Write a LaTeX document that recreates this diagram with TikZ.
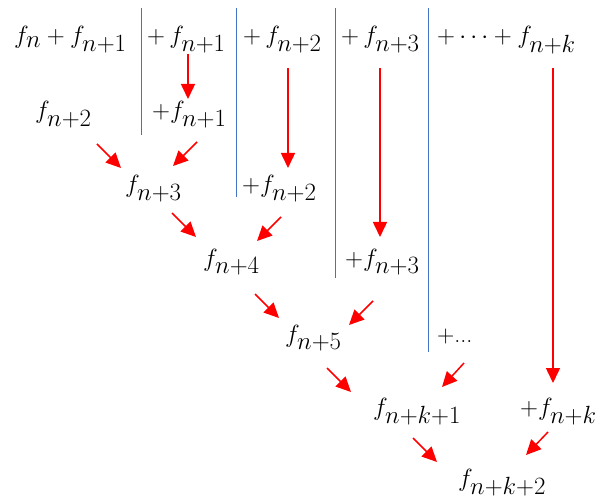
\documentclass[tikz,border=0pt]{standalone}
\usetikzlibrary{arrows.meta}
\definecolor{sepblue}{RGB}{68,114,196}
\begin{document}
\begin{tikzpicture}[x=1pt,y=-1pt,
  lbl/.style={anchor=base west,inner sep=0pt,font=\fontsize{34}{40}\selectfont},
  sepline/.style={draw=sepblue,line width=1.2pt},
  arr/.style={draw=red,line width=1.5pt,-{Triangle[length=15pt,width=14pt]}}]
\useasboundingbox (0,0) rectangle (603,500);
% top row
\node[lbl] (t1) at (14,44) {$f_n + f_{n+1}$};
\node[lbl] (t2) at (147,44) {$+\, f_{n+1}$};
\node[lbl] (t3) at (243,44) {$+\, f_{n+2}$};
\node[lbl] (t4) at (341,44) {$+\, f_{n+3}$};
\node[lbl] (t5) at (437,44) {$+ \cdots + f_{n+k}$};
% left column sums
\node[lbl] (a2) at (35,119) {$f_{n+2}$};
\node[lbl] (a3) at (125,193) {$f_{n+3}$};
\node[lbl] (a4) at (203,266) {$f_{n+4}$};
\node[lbl] (a5) at (285,342) {$f_{n+5}$};
\node[lbl] (a6) at (373,415) {$f_{n+k+1}$};
\node[lbl] (a7) at (458,486) {$f_{n+k+2}$};
% added terms
\node[lbl] (b1) at (152,119) {$+f_{n+1}$};
\node[lbl] (b2) at (242,193) {$+f_{n+2}$};
\node[lbl] (b3) at (345,266) {$+f_{n+3}$};
\node[lbl,font=\fontsize{24}{30}\selectfont] (b4) at (437,342) {+...};
\node[lbl] (b5) at (520,415) {$+f_{n+k}$};
% separators
\coordinate (s1a) at (141.5,8); \coordinate (s1b) at (141.5,135);
\coordinate (s2a) at (236.5,8); \coordinate (s2b) at (236.5,197);
\coordinate (s3a) at (335.5,8); \coordinate (s3b) at (335.5,278);
\coordinate (s4a) at (428.5,8); \coordinate (s4b) at (428.5,352);
\draw[sepline] (s1a) -- (s1b);
\draw[sepline] (s2a) -- (s2b);
\draw[sepline] (s3a) -- (s3b);
\draw[sepline] (s4a) -- (s4b);
% vertical arrows
\coordinate (v1a) at (188,54); \coordinate (v1b) at (188,99);
\coordinate (v2a) at (288,68); \coordinate (v2b) at (288,168);
\coordinate (v3a) at (380,68); \coordinate (v3b) at (380,237);
\coordinate (v4a) at (553,68); \coordinate (v4b) at (553,383);
\draw[arr] (v1a) -- (v1b);
\draw[arr] (v2a) -- (v2b);
\draw[arr] (v3a) -- (v3b);
\draw[arr] (v4a) -- (v4b);
% diagonal arrows
\coordinate (d1a) at (97,144); \coordinate (d1b) at (121,168);
\coordinate (d2a) at (197,142); \coordinate (d2b) at (173,166);
\coordinate (d3a) at (172,213); \coordinate (d3b) at (196,237);
\coordinate (d4a) at (281,217); \coordinate (d4b) at (257,241);
\coordinate (d5a) at (255,294); \coordinate (d5b) at (279,318);
\coordinate (d6a) at (373,301); \coordinate (d6b) at (349,325);
\coordinate (d7a) at (327,368); \coordinate (d7b) at (351,392);
\coordinate (d8a) at (464,363); \coordinate (d8b) at (442,387);
\coordinate (d9a) at (413,438); \coordinate (d9b) at (437,462);
\coordinate (d10a) at (548,432); \coordinate (d10b) at (526,455);
\foreach \i in {1,...,10} {\draw[arr] (d\i a) -- (d\i b);}
\end{tikzpicture}
\end{document}
